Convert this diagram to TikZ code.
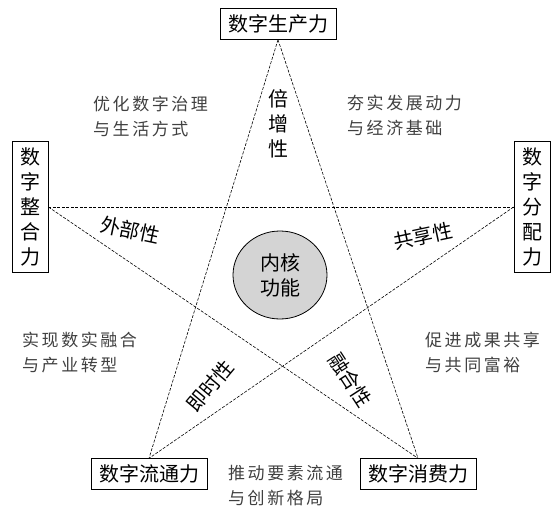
\documentclass[tikz,border=0pt]{standalone}
\usepackage{fontspec}
\usetikzlibrary{shapes.geometric}
\setmainfont{Noto Sans CJK SC}
\newfontfamily\aimfont[LetterSpace=15]{Noto Sans CJK SC}
\tikzset{
  box/.style={draw, line width=0.8pt, fill=white, inner xsep=8pt, inner ysep=6pt, font=\fontsize{20}{25}\selectfont, align=center},
  link/.style={dash pattern=on 3pt off 1.5pt, line width=0.6pt},
  prop/.style={font=\fontsize{20}{25}\selectfont, align=center, inner sep=0pt},
  aim/.style={font=\aimfont\fontsize{17}{25}\selectfont, text=black!75, align=left, anchor=west, inner sep=0pt}
}
\begin{document}
\begin{tikzpicture}[x=1pt, y=-1pt]
\useasboundingbox (0,0) rectangle (553,508);
\node [box] (prod) at (278,24) {数字生产力};
\node [box] (integ) at (30,207) {数\\字\\整\\合\\力};
\node [box] (distr) at (532,207) {数\\字\\分\\配\\力};
\node [box] (circ) at (149,474) {数字流通力};
\node [box] (cons) at (418,474) {数字消费力};
\draw [link] (prod.south) -- (circ.north);
\draw [link] (prod.south) -- (cons.north);
\draw [link] (integ.east) -- (distr.west);
\draw [link] (integ.east) -- (cons.north);
\draw [link] (distr.west) -- (circ.north);
\node [ellipse, draw, line width=0.8pt, fill=black!17, minimum width=94pt, minimum height=88pt, prop] (core) at (280,275) {内核\\功能};
\node [prop] (mult) at (278,124) {倍\\增\\性};
\node [prop, rotate=-12] (extn) at (130,230) {外部性};
\node [prop, rotate=12] (share) at (423,236) {共享性};
\node [prop, rotate=50] (inst) at (210,386) {即时性};
\node [prop, rotate=-57] (fuse) at (350,380) {融合性};
\node [aim] (aimgov) at (93,116) {优化数字治理\\与生活方式};
\node [aim] (aimbase) at (347,115) {夯实发展动力\\与经济基础};
\node [aim] (aimind) at (22,353) {实现数实融合\\与产业转型};
\node [aim] (aimshare) at (425,352) {促进成果共享\\与共同富裕};
\node [aim] (aimflow) at (228,486) {推动要素流通\\与创新格局};
\end{tikzpicture}
\end{document}
